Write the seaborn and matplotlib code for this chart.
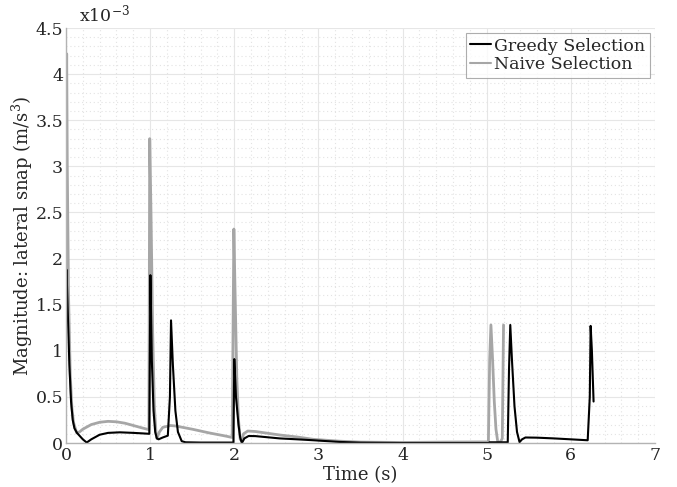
import seaborn as sns
import matplotlib.pyplot as plt
import pandas as pd
from matplotlib.ticker import MultipleLocator, FuncFormatter

# time (s) and lateral snap magnitude (units of 1e-3 m/s^3)
greedy_t = [0.000, 0.006, 0.020, 0.040, 0.060, 0.080, 0.100, 0.130, 0.160, 0.200,
            0.246, 0.300, 0.400, 0.500, 0.640, 0.800, 0.900, 0.990,
            1.003, 1.020, 1.040, 1.060, 1.080, 1.100, 1.150, 1.210, 1.235,
            1.248, 1.270, 1.300, 1.330, 1.375, 1.420, 1.600, 1.990,
            2.000, 2.020, 2.050, 2.070, 2.090, 2.120, 2.170, 2.250, 2.540, 2.750,
            2.940, 3.250, 3.500, 4.000, 4.500, 5.030, 5.032, 5.250,
            5.265, 5.280, 5.300, 5.330, 5.360, 5.390, 5.420, 5.460, 5.600, 5.800,
            6.000, 6.200, 6.225, 6.235, 6.250, 6.270]
greedy_v = [1.50, 1.88, 1.45, 0.85, 0.45, 0.25, 0.16, 0.11, 0.08, 0.04,
            0.005, 0.04, 0.09, 0.11, 0.116, 0.11, 0.105, 0.10,
            1.82, 0.90, 0.35, 0.12, 0.05, 0.04, 0.06, 0.08, 0.50,
            1.33, 0.85, 0.35, 0.12, 0.02, 0.008, 0.005, 0.005,
            0.91, 0.50, 0.20, 0.06, 0.00, 0.05, 0.076, 0.075, 0.05, 0.04,
            0.03, 0.012, 0.004, 0.0, 0.0, 0.0, 0.008, 0.008,
            0.80, 1.28, 0.90, 0.40, 0.12, 0.01, 0.04, 0.06, 0.058, 0.05,
            0.04, 0.03, 0.50, 1.27, 1.00, 0.45]

naive_t = [0.000, 0.008, 0.015, 0.030, 0.050, 0.070, 0.090, 0.127, 0.160, 0.200,
           0.300, 0.400, 0.500, 0.600, 0.700, 0.800, 0.900, 0.985,
           0.995, 1.010, 1.030, 1.050, 1.070, 1.080, 1.110, 1.150, 1.240, 1.300,
           1.500, 1.700, 1.900, 1.975,
           1.995, 2.010, 2.030, 2.050, 2.070, 2.090, 2.110, 2.160, 2.250, 2.540,
           2.750, 2.940, 3.250, 3.500, 4.000, 4.500, 5.020,
           5.035, 5.050, 5.070, 5.090, 5.110, 5.130, 5.160, 5.185, 5.200]
naive_v = [3.00, 4.22, 3.00, 1.60, 0.75, 0.38, 0.22, 0.11, 0.12, 0.15,
           0.20, 0.225, 0.235, 0.23, 0.215, 0.19, 0.165, 0.145,
           3.30, 2.50, 1.20, 0.40, 0.10, 0.05, 0.12, 0.17, 0.19, 0.185,
           0.15, 0.11, 0.075, 0.06,
           2.32, 1.60, 0.70, 0.25, 0.04, 0.02, 0.10, 0.13, 0.125, 0.087,
           0.065, 0.04, 0.02, 0.01, 0.006, 0.01, 0.012,
           0.90, 1.28, 0.90, 0.45, 0.15, 0.02, 0.005, 0.05, 1.28]

series_names = ['Greedy Selection', 'Naive Selection']
x_ticks = [0, 1, 2, 3, 4, 5, 6, 7]

df_greedy = pd.DataFrame({'t': greedy_t, 'v': greedy_v, 'method': series_names[0]})
df_naive = pd.DataFrame({'t': naive_t, 'v': naive_v, 'method': series_names[1]})

sns.set_style('white')
plt.rcParams['font.family'] = ['DejaVu Serif']
plt.rcParams['mathtext.fontset'] = 'dejavuserif'

fig = plt.figure(figsize=(6.77, 4.87), dpi=100)
ax = fig.add_axes([0.0975, 0.0903, 0.87, 0.8522])

# greedy drawn on top of naive, spines drawn over both
sns.lineplot(data=df_naive, x='t', y='v', sort=False, estimator=None,
             color='#a6a6a6', linewidth=2.0, label=series_names[1], ax=ax, zorder=2.1)
sns.lineplot(data=df_greedy, x='t', y='v', sort=False, estimator=None,
             color='#000000', linewidth=1.5, label=series_names[0], ax=ax, zorder=2.2)

ax.set_xlim(0, 7)
ax.set_ylim(0, 4.5)
ax.set_xticks(x_ticks)
ax.xaxis.set_minor_locator(MultipleLocator(0.2))
ax.yaxis.set_major_locator(MultipleLocator(0.5))
ax.yaxis.set_minor_locator(MultipleLocator(0.1))
ax.yaxis.set_major_formatter(FuncFormatter(lambda v, p: f'{v:g}'))

ax.grid(which='major', color='#e6e6e6', linewidth=0.8, linestyle='-')
ax.grid(which='minor', color='#e3e3e3', linewidth=0.8, linestyle=(0, (1, 2.5)))
ax.set_axisbelow(True)

for side in ['top', 'right']:
    ax.spines[side].set_visible(False)
for side in ['left', 'bottom']:
    ax.spines[side].set_color('#b3b3b3')
    ax.spines[side].set_linewidth(1.0)
    ax.spines[side].set_zorder(2.5)
ax.tick_params(which='both', direction='in', colors='#b3b3b3', labelcolor='#262626',
               labelsize=12.5)
ax.tick_params(which='major', length=4)
ax.tick_params(which='minor', length=2)
ax.tick_params(axis='x', pad=3)
ax.tick_params(axis='y', pad=2)

ax.set_xlabel('Time (s)', fontsize=13, color='#262626', labelpad=1)
ax.set_ylabel('Magnitude: lateral snap (m/s$^3$)', fontsize=13, color='#262626', labelpad=0)
ax.text(0.022, 1.006, 'x10$^{-3}$', transform=ax.transAxes, fontsize=12.5,
        color='#262626', ha='left', va='bottom')

handles, labels = ax.get_legend_handles_labels()
order = [labels.index(n) for n in series_names]
leg = ax.legend([handles[i] for i in order], [labels[i] for i in order],
                loc='upper right', fontsize=12.5, frameon=True, fancybox=False,
                handlelength=1.2, handletextpad=0.2, borderpad=0.25,
                labelspacing=0.1, borderaxespad=0.3)
leg.get_frame().set_edgecolor('#999999')
leg.get_frame().set_linewidth(0.8)
for h in leg.get_lines():
    h.set_linewidth(1.5)

fig.savefig('out.png', dpi=100)
